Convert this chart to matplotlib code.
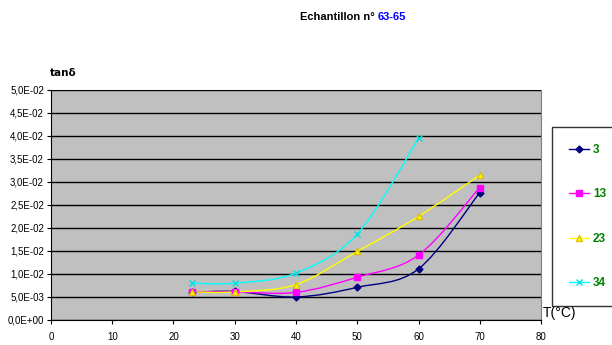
import numpy as np
import matplotlib
matplotlib.use("Agg")
import matplotlib.pyplot as plt
from matplotlib.path import Path
from matplotlib.patches import PathPatch
from matplotlib.ticker import FuncFormatter

# données
temp = [23, 30, 40, 50, 60, 70]
tan_3 = [0.0060, 0.0062, 0.0050, 0.0071, 0.0111, 0.0277]
tan_13 = [0.0061, 0.0061, 0.0060, 0.0093, 0.0141, 0.0288]
tan_23 = [0.0061, 0.0061, 0.0077, 0.0149, 0.0225, 0.0315]
temp_34 = [23, 30, 40, 50, 60]
tan_34 = [0.0080, 0.0080, 0.0102, 0.0187, 0.0395]
labels = ["3", "13", "23", "34"]

plt.rcParams['font.family'] = ['Liberation Sans Narrow', 'Liberation Sans', 'DejaVu Sans']


def smooth_path(x, y):
    # courbe lissée (style Excel) : Catmull-Rom -> Bezier
    x = np.asarray(x, float)
    y = np.asarray(y, float)
    n = len(x)
    verts = [(x[0], y[0])]
    codes = [Path.MOVETO]
    for i in range(n - 1):
        x0, y0 = (x[i - 1], y[i - 1]) if i > 0 else (x[i], y[i])
        x3, y3 = (x[i + 2], y[i + 2]) if i + 2 < n else (x[i + 1], y[i + 1])
        c1 = (x[i] + (x[i + 1] - x0) / 6, y[i] + (y[i + 1] - y0) / 6)
        c2 = (x[i + 1] - (x3 - x[i]) / 6, y[i + 1] - (y3 - y[i]) / 6)
        verts += [c1, c2, (x[i + 1], y[i + 1])]
        codes += [Path.CURVE4] * 3
    return Path(verts, codes)


fig = plt.figure(figsize=(6.12, 3.45), dpi=100)
ax = fig.add_axes([0.0833, 0.0725, 0.8007, 0.6667])
ax.set_facecolor('#C0C0C0')

series = [
    (temp, tan_3, '#000080', 'D', '#000080', 3.5),
    (temp, tan_13, '#FF00FF', 's', '#FF00FF', 4),
    (temp, tan_23, '#FFFF00', '^', '#E0C000', 5),
    (temp_34, tan_34, '#00FFFF', 'x', '#00E0E0', 5),
]
handles = []
for (xs, ys, col, mk, mec, ms), lab in zip(series, labels):
    ax.add_patch(PathPatch(smooth_path(xs, ys), fill=False, edgecolor=col, lw=1.0, zorder=3))
    h, = ax.plot(xs, ys, ls='none', marker=mk, color=col, mec=mec, mfc=col if mk != 'x' else 'none',
                 ms=ms, mew=1.0, zorder=4, label=lab)
    handles.append(h)

ax.set_xlim(0, 80)
ax.set_ylim(0, 0.05)
ax.set_xticks(np.arange(0, 81, 10))
ax.set_yticks(np.arange(0, 0.0501, 0.005))
ax.yaxis.set_major_formatter(FuncFormatter(lambda v, p: ("%.1E" % v).replace('.', ',')))
ax.grid(axis='y', color='black', lw=1.0)
ax.set_axisbelow(True)
ax.tick_params(labelsize=7, length=3, width=0.8, direction='out', pad=2)
ax.tick_params(axis='x', pad=6)
ax.spines['top'].set_visible(False)
ax.spines['right'].set_color('#808080')
ax.spines['left'].set_color('black')
ax.spines['bottom'].set_color('black')

# titre
fig.text(0.49, 0.95, "Echantillon n° ", ha='left', va='center', fontsize=8, fontweight='bold')
fig.text(0.617, 0.95, "63-65", ha='left', va='center', fontsize=8, fontweight='bold', color='#0000FF')

fig.text(0.103, 0.788, "tanδ", ha='center', va='center', fontsize=7.5, fontweight='bold',
         family=['Liberation Sans Narrow', 'DejaVu Sans'])
fig.text(0.887, 0.092, "T(°C)", ha='left', va='center', fontsize=10)

# légende
leg = fig.legend(handles=handles, loc='upper left', bbox_to_anchor=(0.902, 0.633),
                 frameon=True, fancybox=False, edgecolor='black', fontsize=8.5,
                 labelspacing=2.75, handlelength=1.7, borderpad=1.45, handletextpad=0.3,
                 borderaxespad=0)
leg.get_frame().set_linewidth(1.0)
for t in leg.get_texts():
    t.set_color('#008000')
    t.set_fontweight('bold')
for lh in leg.legend_handles:
    lh.set_linestyle('-')
    lh.set_linewidth(1.0)

fig.savefig('out.png', dpi=100)
